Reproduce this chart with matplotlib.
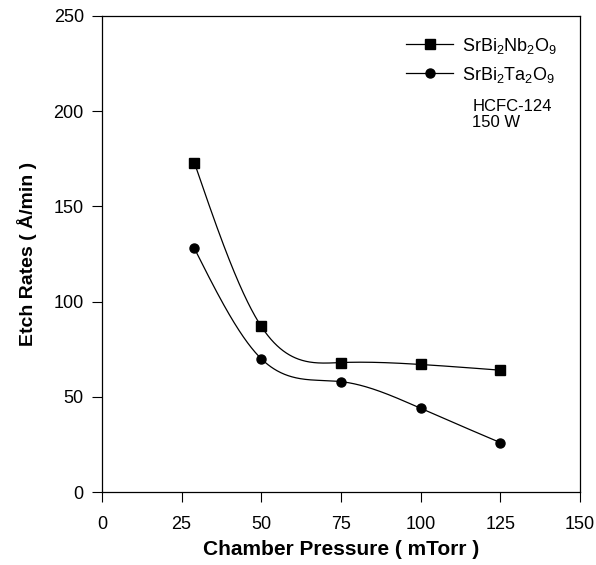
import numpy as np
import matplotlib
matplotlib.use("Agg")
import matplotlib.pyplot as plt

plt.rcParams['font.family'] = ['Liberation Sans', 'DejaVu Sans']
plt.rcParams['mathtext.default'] = 'regular'

pressure = [29, 50, 75, 100, 125]
nb_rates = [173, 87, 68, 67, 64]
ta_rates = [128, 70, 58, 44, 26]
x_ticks = [0, 25, 50, 75, 100, 125, 150]
y_ticks = [0, 50, 100, 150, 200, 250]


def natural_spline(x, y, n=500):
    x = np.asarray(x, float); y = np.asarray(y, float)
    m = len(x); h = np.diff(x)
    A = np.zeros((m, m)); b = np.zeros(m)
    A[0, 0] = 1; A[-1, -1] = 1
    for i in range(1, m - 1):
        A[i, i - 1] = h[i - 1]; A[i, i] = 2 * (h[i - 1] + h[i]); A[i, i + 1] = h[i]
        b[i] = 6 * ((y[i + 1] - y[i]) / h[i] - (y[i] - y[i - 1]) / h[i - 1])
    M = np.linalg.solve(A, b)
    xs = np.linspace(x[0], x[-1], n); ys = np.empty_like(xs)
    for k, tv in enumerate(xs):
        i = min(np.searchsorted(x, tv, side='right') - 1, m - 2)
        t1 = x[i + 1] - tv; t0 = tv - x[i]
        ys[k] = (M[i] * t1 ** 3 + M[i + 1] * t0 ** 3) / (6 * h[i]) \
            + (y[i] / h[i] - M[i] * h[i] / 6) * t1 + (y[i + 1] / h[i] - M[i + 1] * h[i] / 6) * t0
    return xs, ys


fig = plt.figure(figsize=(5.96, 5.65), dpi=100)
ax = fig.add_axes([0.171, 0.129, 0.802, 0.843])

for ys, mk, lab in [(nb_rates, 's', r'SrBi$_2$Nb$_2$O$_9$'), (ta_rates, 'o', r'SrBi$_2$Ta$_2$O$_9$')]:
    sx, sy = natural_spline(pressure, ys)
    ax.plot(sx, sy, color='black', lw=0.9)
    ax.plot(pressure, ys, linestyle='none', marker=mk, color='black', markersize=6.5)
    ax.plot([], [], color='black', lw=0.9, marker=mk, markersize=6.5, label=lab)

ax.set_xlim(0, 150)
ax.set_ylim(0, 250)
ax.set_xticks(x_ticks)
ax.set_yticks(y_ticks)
ax.tick_params(direction='out', length=7, width=0.8, labelsize=13)
ax.tick_params(axis='x', pad=10)
ax.tick_params(axis='y', pad=6)
for s in ax.spines.values():
    s.set_linewidth(0.9)

ax.set_xlabel('Chamber Pressure ( mTorr )', fontsize=15, fontweight='bold', labelpad=5)
ax.set_ylabel('Etch Rates ( Å/min )', fontsize=14, fontweight='bold', labelpad=12)

ax.legend(loc='upper left', bbox_to_anchor=(0.61, 0.985), frameon=False, fontsize=13,
          handlelength=2.6, handletextpad=0.5, borderaxespad=0.3, labelspacing=0.5)
ax.text(0.775, 0.825, 'HCFC-124\n150 W', transform=ax.transAxes, fontsize=12,
        va='top', ha='left', linespacing=1.1)

fig.savefig('out.png', dpi=100)
